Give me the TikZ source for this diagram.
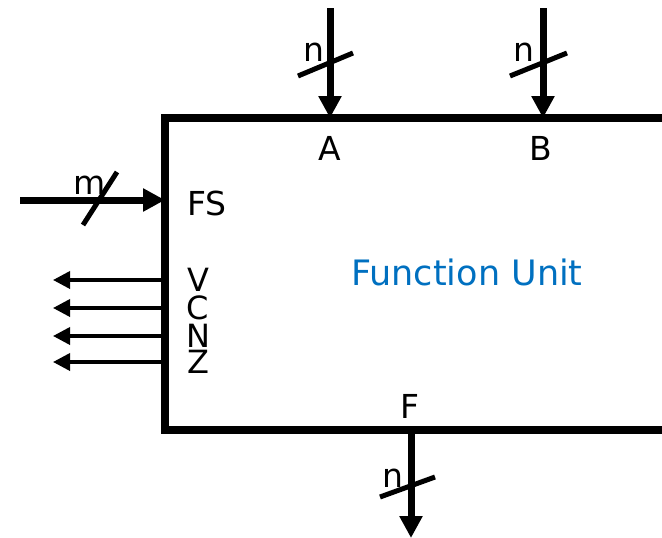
\documentclass[tikz,border=0pt]{standalone}
\usepackage{fontspec}
\setmainfont{DejaVu Sans}
\usetikzlibrary{arrows.meta,positioning}
\definecolor{unitblue}{RGB}{0,112,192}
\tikzset{
  bus/.style={line width=7pt, -{Triangle[length=22pt,width=22pt]}},
  flagline/.style={line width=3.5pt, -{Triangle[length=17pt,width=17pt]}},
  cut/.style={line width=5pt},
  lbl/.style={font=\fontsize{33}{33}\selectfont, inner sep=0pt},
  flaglbl/.style={font=\fontsize{32}{32}\selectfont, inner sep=0pt},
}
\begin{document}
\begin{tikzpicture}[x=1pt, y=-1pt]
    \useasboundingbox (0,0) rectangle (662,538);
    % Bloque principal
    \node[draw, line width=8pt, minimum width=535pt, minimum height=312pt, inner sep=0pt] (fu) at (432.5,274) {};
    \node[lbl, text=unitblue, font=\fontsize{35}{35}\selectfont] (title) at (467,272) {Function Unit};

    % Puertos
    \coordinate (pA) at (330,118);
    \coordinate (pB) at (543,118);
    \coordinate (pFS) at (165,200);
    \coordinate (pF) at (411,430);
    \coordinate (inA) at (330,8);
    \coordinate (inB) at (543,8);
    \coordinate (inFS) at (20,200);
    \coordinate (outF) at (411,538);

    % Entradas A y B
    \draw[bus] (inA) -- (pA);
    \draw[bus] (inB) -- (pB);
    \draw[cut] (298,76) -- (353,53);
    \draw[cut] (510,76) -- (567,53);
    \node[lbl] (nA) at (314,52) {n};
    \node[lbl] (nB) at (524,52) {n};
    \node[lbl] (labA) at (330,148) {A};
    \node[lbl] (labB) at (541,148) {B};

    % Entrada FS
    \draw[bus] (inFS) -- (pFS);
    \draw[cut] (83,225) -- (117,172);
    \node[lbl] (mFS) at (90,185) {m};
    \node[lbl, anchor=west] (labFS) at (187,203) {FS};

    % Banderas de estado
    \foreach \f/\yy in {V/280, C/308, N/336, Z/362} {
        \coordinate (p\f) at (165,\yy);
        \coordinate (out\f) at (53,\yy);
        \draw[flagline] (p\f) -- (out\f);
        \node[flaglbl] (lab\f) at (198,\yy) {\f};
    }

    % Salida F
    \draw[bus] (pF) -- (outF);
    \draw[cut] (380,497) -- (435,477);
    \node[lbl] (nF) at (393,478) {n};
    \node[lbl] (labF) at (410,406) {F};
\end{tikzpicture}
\end{document}
